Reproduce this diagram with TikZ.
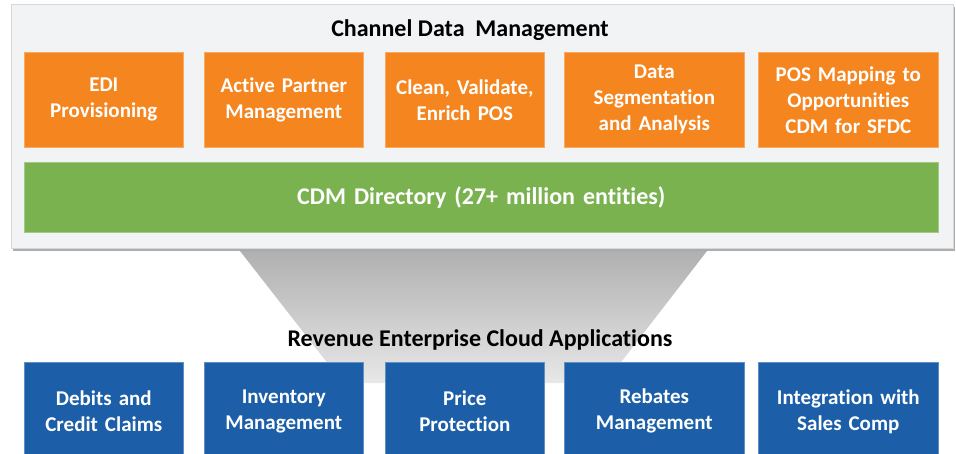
\documentclass[tikz,border=0pt]{standalone}
\usepackage{fontspec}
\setmainfont{Carlito}[Ligatures=NoCommon]
\usetikzlibrary{shadows}
\definecolor{panelgray}{HTML}{F2F3F5}
\definecolor{panelline}{HTML}{D6D8DC}
\definecolor{cdmorange}{HTML}{F5851F}
\definecolor{cdmgreen}{HTML}{7BB250}
\definecolor{cdmblue}{HTML}{1C5FA8}
\tikzset{
  heading/.style={font=\fontsize{24}{28}\selectfont\bfseries, text=black},
  box/.style={anchor=north west, inner sep=0pt, align=center,
    font=\fontsize{21}{26}\selectfont\bfseries, text=white},
  orangebox/.style={box, fill=cdmorange, draw=cdmorange!70!white, line width=0.6pt},
  bluebox/.style={box, fill=cdmblue, draw=cdmblue!70!white, line width=0.6pt},
  greenbar/.style={box, fill=cdmgreen, draw=cdmgreen!70!white, line width=0.6pt,
    font=\fontsize{24}{28}\selectfont\bfseries},
}
\newcommand{\cellbox}[7]{% style, name, x0, y0, x1, y1, text
  \node[#1, minimum width={(#5-#3)*1pt}, minimum height={(#6-#4)*1pt},
        text width={(#5-#3-8)*1pt}] (#2) at (#3,#4) {#7};}
\begin{document}
\begin{tikzpicture}[x=1pt, y=-1pt]
  \useasboundingbox (0,0) rectangle (956,454);
  \begin{scope}
    \clip (0,0) rectangle (956,454);
    % funnel linking the two layers
    \shade[top color=black!31, bottom color=black!9]
      (240,251) -- (707,251) -- (605,383) -- (343,383) -- cycle;
    % upper panel
    \node[anchor=north west, inner sep=0pt, minimum width=942pt, minimum height=244pt,
          fill=panelgray, draw=panelline, line width=0.5pt,
          drop shadow={shadow xshift=1.5pt, shadow yshift=-2.5pt, opacity=0.45, fill=black!70}]
      (panel) at (11,4) {};
    \node[heading] (cdmtitle) at (470,30) {Channel Data\ \ Management};
    \cellbox{orangebox}{o1}{24}{52}{183}{147}{\raisebox{-2pt}{\parbox{150pt}{\centering EDI\\Provisioning}}}
    \cellbox{orangebox}{o2}{204}{52}{363}{147}{\raisebox{-2pt}{\parbox{150pt}{\centering Active Partner\\Management}}}
    \cellbox{orangebox}{o3}{385}{52}{544}{147}{\raisebox{-2pt}{\parbox{150pt}{\centering Clean, Validate,\\Enrich POS}}}
    \cellbox{orangebox}{o4}{564}{52}{744}{147}{\raisebox{-2pt}{\parbox{170pt}{\centering Data\\Segmentation\\and Analysis}}}
    \cellbox{orangebox}{o5}{758}{52}{938}{147}{\raisebox{-2pt}{\parbox{170pt}{\centering POS Mapping to\\Opportunities\\CDM for SFDC}}}
    \cellbox{greenbar}{dir}{24}{162}{938}{232}{CDM Directory (27+ million entities)}
    % lower layer
    \node[heading] (apptitle) at (480,340) {Revenue Enterprise Cloud Applications};
    \cellbox{bluebox}{b1}{24}{362}{183}{460}{\raisebox{10pt}{\parbox{150pt}{\centering Debits and\\Credit Claims}}}
    \cellbox{bluebox}{b2}{204}{362}{363}{460}{\raisebox{10pt}{\parbox{150pt}{\centering Inventory\\Management}}}
    \cellbox{bluebox}{b3}{385}{362}{544}{460}{\raisebox{10pt}{\parbox{150pt}{\centering Price\\Protection}}}
    \cellbox{bluebox}{b4}{564}{362}{744}{460}{\raisebox{10pt}{\parbox{170pt}{\centering Rebates\\Management}}}
    \cellbox{bluebox}{b5}{758}{362}{938}{460}{\raisebox{10pt}{\parbox{170pt}{\centering Integration with\\Sales Comp}}}
  \end{scope}
\end{tikzpicture}
\end{document}
